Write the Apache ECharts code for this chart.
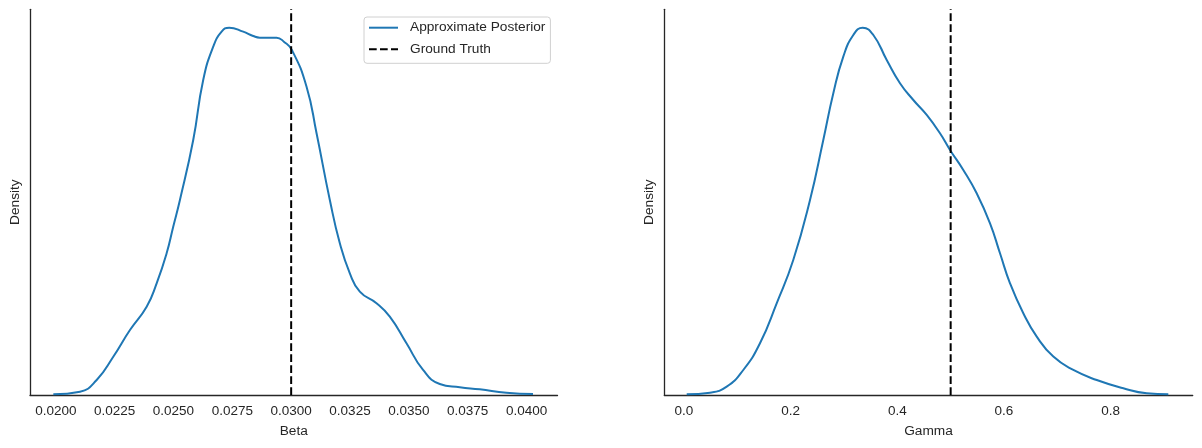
<!DOCTYPE html>
<html>
<head>
<meta charset="utf-8">
<script src="https://cdn.jsdelivr.net/npm/echarts@6/dist/echarts.min.js"></script>
<style>html,body{margin:0;padding:0;background:#fff}#c{width:1202px;height:448px}</style>
</head>
<body>
<div id="c"></div>
<script>
// Beta posterior density (normalized so that peak = 1)
const betaX = [0.019894,0.021028,0.021737,0.022442,0.023151,0.023860,0.024285,0.024709,0.024989,0.025274,0.025839,0.026263,0.026688,0.027045,0.027367,0.027962,0.028386,0.028671,0.029380,0.029690,0.030030,0.030654,0.031079,0.031643,0.032068,0.032493,0.032917,0.033626,0.034191,0.034900,0.035605,0.036314,0.037163,0.038013,0.039146,0.040276];
const betaD = [0.0019,0.0090,0.0408,0.1043,0.1770,0.2404,0.3041,0.3858,0.4582,0.5309,0.6943,0.8576,0.9483,0.9891,1.0000,0.9891,0.9774,0.9728,0.9728,0.9619,0.9393,0.8394,0.7125,0.5309,0.4130,0.3313,0.2812,0.2497,0.2132,0.1408,0.0681,0.0299,0.0210,0.0155,0.0063,0.0027];
// Gamma posterior density (normalized so that peak = 1)
const gammaX = [0.0051,0.0488,0.0801,0.1112,0.1425,0.1738,0.2049,0.2363,0.2612,0.2800,0.2987,0.3175,0.3351,0.3550,0.3801,0.4050,0.4300,0.4551,0.4800,0.4988,0.5237,0.5488,0.5738,0.5925,0.6113,0.6362,0.6614,0.6925,0.7300,0.7739,0.8237,0.8676,0.9081];
const gammaD = [0.0019,0.0063,0.0226,0.0681,0.1408,0.2497,0.3676,0.5309,0.6943,0.8215,0.9211,0.9801,1.0000,0.9801,0.9121,0.8487,0.8031,0.7623,0.7124,0.6671,0.6126,0.5491,0.4674,0.3858,0.3041,0.2224,0.1589,0.1045,0.0681,0.0408,0.0182,0.0046,0.0019];
const betaTicks = [0.0200,0.0225,0.0250,0.0275,0.0300,0.0325,0.0350,0.0375,0.0400];
const gammaTicks = [0.0,0.2,0.4,0.6,0.8];
const betaTrue = 0.03;
const gammaTrue = 0.5;
const yMax = 1.05;

const TXT = '#262626';
const FONT = 'Liberation Sans, Arial, sans-serif';
const zip = (a,b)=>a.map((v,i)=>[v,b[i]]);

function xAxis(idx, min, max, ticks, dec, name){
  return {
    type:'value', gridIndex:idx, min:min, max:max,
    name:name, nameLocation:'middle', nameGap:29,
    nameTextStyle:{color:TXT, fontSize:13.7, fontFamily:FONT},
    axisLine:{show:true, onZero:false, lineStyle:{color:TXT, width:1.3}},
    axisTick:{show:false},
    splitLine:{show:false},
    axisLabel:{customValues:ticks, formatter:v=>Number(v).toFixed(dec), color:TXT, fontSize:13.5, fontFamily:FONT, margin:9}
  };
}
function yAxis(idx){
  return {
    type:'value', gridIndex:idx, min:0, max:yMax,
    name:'Density', nameLocation:'middle', nameGap:8, nameRotate:90,
    nameTextStyle:{color:TXT, fontSize:13.7, fontFamily:FONT},
    axisLine:{show:true, onZero:false, lineStyle:{color:TXT, width:1.3}},
    axisTick:{show:false}, axisLabel:{show:false}, splitLine:{show:false}
  };
}

const chart = echarts.init(document.getElementById('c'), null, {renderer:'canvas'});
chart.setOption({
  animation:false,
  backgroundColor:'#fff',
  grid:[
    {left:30, right:644.5, top:9.3, bottom:53},
    {left:664.3, right:9.3, top:9.3, bottom:53}
  ],
  xAxis:[
    xAxis(0, 0.018904, 0.041316, betaTicks, 4, 'Beta'),
    xAxis(1, -0.0369, 0.9538, gammaTicks, 1, 'Gamma')
  ],
  yAxis:[yAxis(0), yAxis(1)],
  legend:{
    data:['Approximate Posterior','Ground Truth'],
    orient:'vertical', left:364, top:17,
    itemWidth:29, itemHeight:14, itemGap:7.6,
    padding:[3.7,5,7,4],
    borderColor:'#d0d0d0', borderWidth:1, borderRadius:3,
    backgroundColor:'#fff',
    itemStyle:{opacity:0, borderWidth:0},
    textStyle:{color:TXT, fontSize:13.7, fontFamily:FONT, padding:[0,0,0,7]}
  },
  series:[
    {name:'Approximate Posterior', type:'line', xAxisIndex:0, yAxisIndex:0, data:zip(betaX,betaD), smooth:0.5, symbol:'none', itemStyle:{color:'#1f77b4'}, lineStyle:{color:'#1f77b4', width:2}, z:3},
    {name:'Ground Truth', type:'line', xAxisIndex:0, yAxisIndex:0, data:[[betaTrue,0],[betaTrue,yMax]], symbol:'none', itemStyle:{color:'#000'}, lineStyle:{color:'#000', width:2, type:[7.7,3.3]}, z:4},
    {name:'Approximate Posterior', type:'line', xAxisIndex:1, yAxisIndex:1, data:zip(gammaX,gammaD), smooth:0.5, symbol:'none', itemStyle:{color:'#1f77b4'}, lineStyle:{color:'#1f77b4', width:2}, z:3},
    {name:'Ground Truth', type:'line', xAxisIndex:1, yAxisIndex:1, data:[[gammaTrue,0],[gammaTrue,yMax]], symbol:'none', itemStyle:{color:'#000'}, lineStyle:{color:'#000', width:2, type:[7.7,3.3]}, z:4}
  ]
});
</script>
</body>
</html>
